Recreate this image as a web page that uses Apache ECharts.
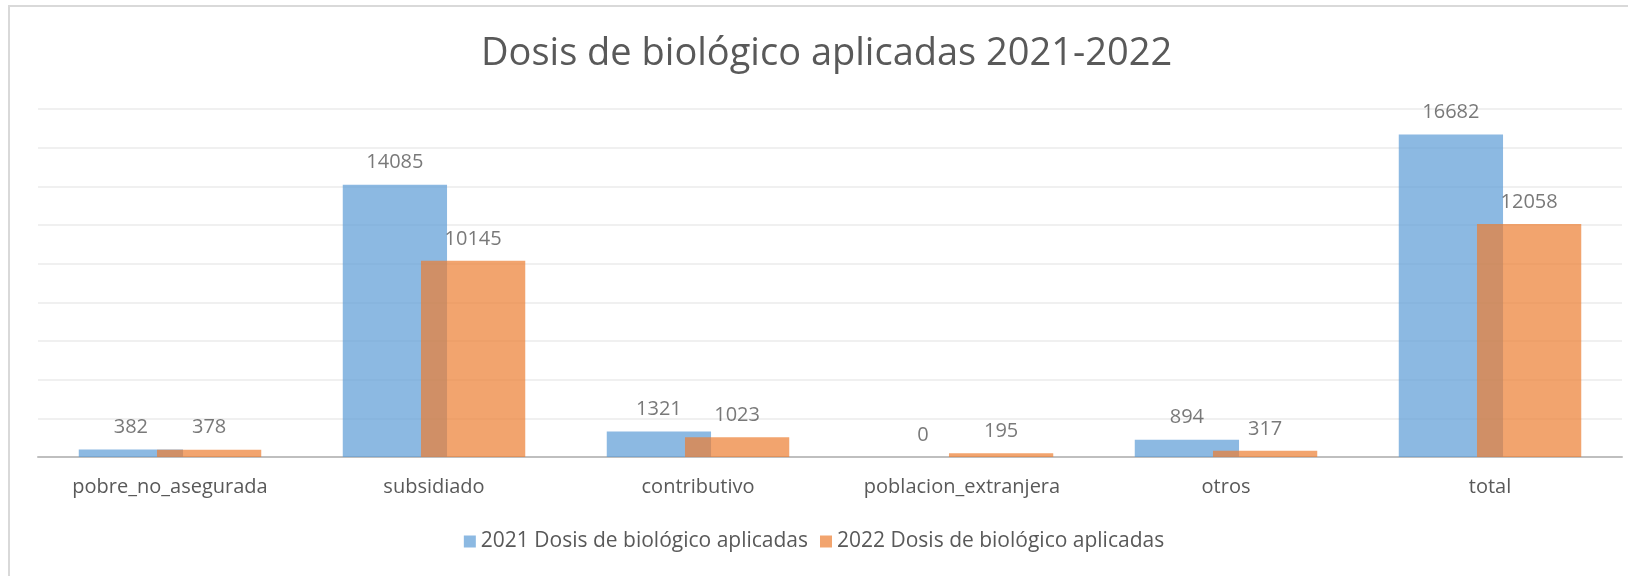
<!DOCTYPE html>
<html style="height: 100%">
<head>
 <meta charset="utf-8">
 <title>Dosis de biológico aplicadas</title>
 <script src="https://cdn.jsdelivr.net/npm/echarts@6/dist/echarts.min.js"></script>
</head>
<body style="height: 100%; margin: 0; background: #fff">
 <div id="main" style="width: 1628px; height: 576px"></div>
 <script type="text/javascript">
 // datos
 var categorias = ['pobre_no_asegurada', 'subsidiado', 'contributivo', 'poblacion_extranjera', 'otros', 'total'];
 var dosis2021 = [382, 14085, 1321, 0, 894, 16682];
 var dosis2022 = [378, 10145, 1023, 195, 317, 12058];
 var nombres = ['2021 Dosis de biológico aplicadas', '2022 Dosis de biológico aplicadas'];

 var fuente = 'Open Sans';
 var myChart = echarts.init(document.getElementById('main'));

 var etiqueta = {
 show: true,
 position: 'top',
 distance: 12,
 color: '#404040',
 fontSize: 20,
 fontFamily: fuente
 };

 var option = {
 animation: false,
 title: {
 text: 'Dosis de biológico aplicadas 2021-2022',
 left: 476,
 top: 30,
 textStyle: { color: '#595959', fontSize: 38, fontWeight: 'normal', fontFamily: fuente }
 },
 legend: {
 bottom: 19,
 left: 'center',
 itemWidth: 12,
 itemHeight: 12,
 itemGap: 12,
 icon: 'rect',
 textStyle: { color: '#595959', fontSize: 21, fontFamily: fuente },
 data: nombres
 },
 grid: { left: 38, right: 6, top: 109, bottom: 119 },
 xAxis: {
 type: 'category',
 data: categorias,
 axisTick: { show: false },
 axisLine: { lineStyle: { color: '#BFBFBF', width: 2 } },
 axisLabel: { color: '#595959', fontSize: 20, margin: 20, fontFamily: fuente }
 },
 yAxis: {
 type: 'value',
 min: 0,
 max: 18000,
 interval: 2000,
 axisLabel: { show: false },
 axisLine: { show: false },
 axisTick: { show: false },
 splitLine: { lineStyle: { color: '#F0F0F0', width: 2 } }
 },
 series: [
 {
 name: nombres[0],
 type: 'bar',
 data: dosis2021,
 barWidth: '39.5%',
 barGap: '-25%',
 itemStyle: { color: '#5B9BD5', opacity: 0.7 },
 label: etiqueta
 },
 {
 name: nombres[1],
 type: 'bar',
 data: dosis2022,
 barWidth: '39.5%',
 itemStyle: { color: '#ED7D31', opacity: 0.7 },
 label: etiqueta
 }
 ],
 graphic: [{
 type: 'rect',
 shape: { x: 9, y: 6, width: 1700, height: 700 },
 style: { fill: 'none', stroke: '#D9D9D9', lineWidth: 2 },
 silent: true
 }]
 };

 myChart.setOption(option);
 </script>
</body>
</html>
